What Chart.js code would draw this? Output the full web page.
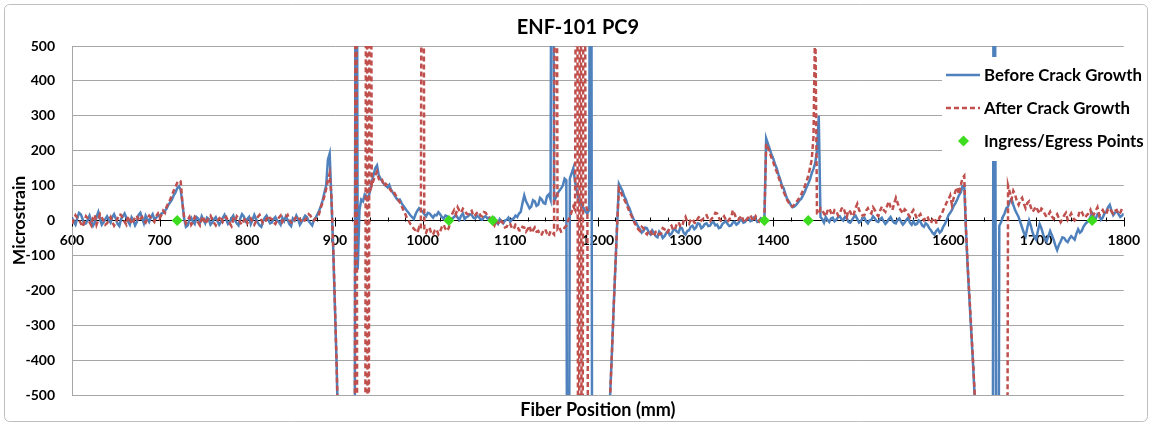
<!DOCTYPE html>
<html>
<head>
<meta charset="utf-8">
<script src="https://cdn.jsdelivr.net/npm/chart.js@4.4.1/dist/chart.umd.min.js"></script>
<style>
  html, body { margin: 0; padding: 0; background: #ffffff; }
  #wrap { width: 1152px; height: 425px; }
</style>
</head>
<body>
<div id="wrap"><canvas id="strainChart" width="1152" height="425"></canvas></div>
<script>
// Fibre strain profile, sampled every 2 mm from 600 mm to 1800 mm.
const FIBER_START_MM = 600;
const SAMPLE_STEP_MM = 2;

// Microstrain before crack growth (one row = 40 mm of fibre).
const beforeGrowth = [
  8, -4, -12, 6, 22, 18, 5, -10, -8, 2, 14, -2, -15, -6, 10, 24, 3, -12, -5, 4,                 // 600
  12, 2, -6, 10, 18, 6, -10, -16, 4, 12, 20, 8, -3, -12, 9, 0, -14, -4, 16, 22,                 // 640
  6, -8, 14, 4, -4, 10, 18, 2, 8, 14, 12, 20, 22, 28, 34, 45, 52, 60, 72, 80,                   // 680
  92, 98, 88, 50, 4, -18, -14, 2, 8, -4, -10, 10, 6, -6, 12, 2, -8, 8, 4, -12,                  // 720
  -6, 4, 10, -2, -12, -4, 8, 16, 2, -10, -4, 6, 14, 0, -8, -14, 6, 18, 12, -2,                  // 760
  4, 10, -10, 2, 16, 4, -6, -14, -18, -2, 8, 14, 2, -8, -6, 4, 10, 0, -4, -12,                  // 800
  8, -2, 12, 2, -10, -16, 6, 0, 14, 4, -12, -4, 4, 14, 10, -2, -8, -14, 2, 8,                   // 840
  18, 28, 42, 58, 80, 100, 175, 192, 60, -80, -250, -420, -650, -2000, -2000, -2000, -2000, -2000, -2000, -2000, // 880
  -2000, -2000, 2000, -140, 30, 60, 55, 75, 70, 62, 85, 110, 130, 150, 158, 130, 120, 112, 105, 100, // 920
  95, 102, 88, 80, 72, 64, 58, 60, 50, 42, 35, 28, 22, 15, 10, 4, 18, 28, 35, 30,               // 960
  25, 18, 12, 22, 20, 14, 8, 16, 15, 24, 18, 10, 5, 14, 12, 4, 0, 6, 10, 16,                    // 1000
  8, 2, 14, 20, 4, 10, 12, 18, 16, 8, 6, 14, 10, 4, 2, 10, 12, 6, 8, -2,                        // 1040
  0, 6, -5, -10, 4, -2, -8, 0, 2, 8, -4, 4, 6, 14, 10, 20, 25, 50, 72, 55,                      // 1080
  45, 35, 40, 58, 55, 42, 45, 65, 60, 50, 48, 70, 75, 60, 2000, 55, 65, 78, 85, 92,             // 1120
  100, 120, 115, -2000, 120, 135, 150, 110, 85, 60, 55, 40, 35, 25, 20, 30, 2000, -2000, -2000, -2000, // 1160
  -2000, -2000, -2000, -2000, -2000, -2000, -640, -500, -380, -250, -130, -10, 105, 95, 85, 70, 60, 45, 35, 20, // 1200
  8, -2, -8, -18, -25, -35, -30, -20, -22, -34, -40, -28, -35, -45, -48, -32, -38, -50, -45, -36, // 1240
  -30, -42, -38, -28, -25, -32, -35, -20, -22, -36, -40, -30, -28, -18, -15, -25, -20, -8, -10, -22, // 1280
  -18, -10, -8, -16, -15, -6, -5, -14, -12, -22, -20, -10, -6, -2, -10, -16, -14, -6, -4, -12,  // 1320
  -8, 0, 2, -6, -4, 4, 6, -2, 0, 8, 4, -4, -2, 6, 2, 2, 235, 220, 205, 190,                     // 1360
  178, 162, 150, 132, 118, 100, 92, 75, 62, 55, 45, 38, 40, 44, 50, 58, 62, 72, 82, 95,         // 1400
  105, 118, 135, 148, 165, 200, 300, 10, 4, -6, 10, 2, -4, 6, 8, -2, 2, 10, 12, 4,              // 1440
  0, 10, 6, -4, -6, 2, 10, 14, 4, -6, -2, 6, 8, -2, -8, 0, 2, 12, 6, -2,                        // 1480
  -4, 4, 8, -2, -10, -4, 4, 10, 0, -6, -8, 2, 6, -4, -12, -6, 2, 8, -6, -12,                    // 1520
  -2, -12, -10, 0, -4, -14, -18, -8, -12, -22, -28, -36, -40, -30, -25, -35, -30, -18, -10, 2,  // 1560
  15, 22, 30, 42, 50, 60, 72, 80, 98, 100, -30, -140, -230, -320, -410, -510, -2000, -2000, -2000, -2000, // 1600
  -2000, -2000, -2000, -2000, -2000, -2000, 2000, -290, -2000, -15, -5, 10, 20, 35, 40, 55, 62, 45, 30, 20, // 1640
  10, -5, -20, -35, -45, -20, 0, -15, -35, -48, -55, -30, -10, -22, -40, -52, -60, -45, -30, -42, // 1680
  -55, -72, -85, -70, -60, -48, -50, -58, -62, -52, -45, -50, -55, -38, -25, -35, -30, -18, -10, -5, // 1720
  0, 10, 20, 8, 5, 18, 15, 2, 8, 20, 25, 38, 45, 28, 15, 22, 28, 18, 10, 14,                    // 1760
  20                                                                                            // 1800
];

// Microstrain after crack growth.
const afterGrowth = [
  -10, 4, 15, 8, 2, -8, -18, -4, 12, 6, -5, -14, 8, 16, -12, 2, 18, 8, 0, -12,                  // 600
  -8, 2, 10, -4, -15, -6, 6, 18, 16, 4, -4, -12, 12, 4, -10, -2, 8, 14, -2, 4,                  // 640
  10, 0, -6, 6, 14, 8, 2, -4, 12, 20, 6, 16, 28, 22, 40, 50, 60, 72, 85, 96,                    // 680
  108, 115, 112, 50, 8, -8, 2, 10, -12, -4, 10, 2, -6, -14, 4, 12, -10, -2, 8, 14,              // 720
  2, -6, -14, -2, 6, 12, -4, 4, 10, 0, -8, -16, 4, -2, 12, 6, -6, -12, 0, 8,                    // 760
  -8, 0, 6, -4, -12, -2, 10, 16, 2, -8, -6, 4, 14, 6, 4, -6, -10, 0, 8, 14,                     // 800
  -4, 4, 10, 16, 2, -6, -8, 2, 12, 6, 4, -2, -6, 2, 8, 18, 14, 4, 0, 6,                         // 840
  10, 20, 38, 52, 70, 90, 115, 135, 70, -70, -240, -420, -650, -2000, -2000, -2000, -2000, -2000, -2000, -2000, // 880
  -2000, -2000, 2000, -2000, -2000, -2000, -2000, -2000, 2000, -2000, 2000, 100, 115, 130, 140, 120, 110, 115, 98, 105, // 920
  100, 92, 85, 88, 78, 70, 60, 52, 42, 30, 20, 8, 0, -10, -15, -24, -28, -35, -20, -25,         // 960
  2000, -30, -35, -22, -20, -38, -40, -28, -25, -40, -32, -18, -12, -24, -30, -20, 5, 20, 30, 18, // 1000
  38, 28, 22, 34, 30, 20, 18, 26, 28, 12, 15, 22, 25, 14, 12, 24, 22, 14, 10, 0,                // 1040
  -5, -14, 2, -6, -12, -2, -8, -20, -18, -8, -10, -22, -25, -12, -15, -28, -30, -18, -20, -32,  // 1080
  -25, -15, -35, -28, -20, -32, -30, -42, -40, -28, -25, -38, -45, -30, -35, -40, 2000, -25, -20, -32, // 1120
  -30, -20, -15, 0, 10, 25, 40, 30, 2000, -2000, 2000, -2000, 2000, 45, 30, -2000, -2000, -2000, -2000, -2000, // 1160
  -2000, -2000, -2000, -2000, -2000, -2000, -640, -500, -380, -250, -130, -10, 92, 82, 70, 60, 50, 38, 25, 15, // 1200
  5, -8, -15, -25, -30, -18, -22, -35, -40, -30, -28, -42, -45, -32, -30, -40, -38, -22, -25, -36, // 1240
  -32, -20, -15, -28, -25, -10, -5, -16, -18, 0, 10, -4, -10, 2, 5, -6, -8, 6, 12, 0,           // 1280
  4, 12, 15, 4, -2, 6, 10, 22, 20, 8, 0, 6, 12, 2, -4, 4, 8, 30, 18, 6,                         // 1320
  2, 8, 14, 0, -6, 4, 10, 16, 4, -2, 12, 6, -2, 8, 6, 4, 220, 208, 195, 180,                    // 1360
  168, 152, 140, 125, 110, 95, 82, 70, 58, 50, 42, 40, 45, 52, 58, 66, 75, 86, 98, 112,         // 1400
  128, 150, 175, 240, 600, 20, 18, 35, 30, 20, 12, 28, 35, 22, 15, 30, 28, 14, 20, 34,          // 1440
  38, 22, 10, 30, 25, 12, 18, 36, 48, 30, 22, 14, 15, 28, 35, 24, 20, 38, 30, 18,               // 1480
  12, 28, 40, 30, 25, 42, 55, 38, 30, 48, 65, 50, 35, 28, 20, 32, 28, 18, 10, 22,               // 1520
  30, 18, 5, 12, 18, 6, 0, 8, 12, -2, -8, 4, 8, -6, -5, 10, 15, 30, 40, 52,                     // 1560
  60, 72, 45, 65, 85, 95, 75, 100, 122, 128, -25, -130, -220, -310, -400, -500, -2000, -2000, -2000, -2000, // 1600
  -2000, -2000, -2000, -2000, -2000, -2000, -2000, -2000, -2000, -2000, -2000, -2000, -2000, -2000, 100, 80, 60, 85, 75, 55, // 1640
  45, 58, 65, 48, 35, 50, 55, 38, 25, 32, 40, 28, 20, 34, 30, 18, 10, 16, 25, 12,               // 1680
  5, 12, 18, 6, -5, 4, 15, 22, 2, 10, 20, 8, 0, 6, 12, 28, 25, 14, 8, 16,                       // 1720
  20, 30, 10, 18, 28, 38, 15, 24, 30, 20, 18, 32, 35, 26, 20, 28, 30, 18, 22, 34,               // 1760
  28                                                                                            // 1800
];

// Ingress / egress positions of the fibre (mm), plotted on the zero line.
const ingressEgressMm = [720, 1030, 1080, 1390, 1440, 1764];

// Axis tick values.
const xTicks = [600, 700, 800, 900, 1000, 1100, 1200, 1300, 1400, 1500, 1600, 1700, 1800];
const yTicks = [-500, -400, -300, -200, -100, 0, 100, 200, 300, 400, 500];

const seriesNames = ['Before Crack Growth', 'After Crack Growth', 'Ingress/Egress Points'];
const BLUE = '#4F81BD';
const RED = '#C0504D';
const GREEN = '#3CDC1E';
const FONT = 'Lato, "Open Sans", sans-serif';

const toPoints = values => values.map((v, i) => ({ x: FIBER_START_MM + i * SAMPLE_STEP_MM, y: v }));

// White page with a rounded frame.
const framePlugin = {
  id: 'frame',
  beforeDraw(chart) {
    const ctx = chart.ctx;
    ctx.save();
    ctx.fillStyle = '#ffffff';
    ctx.fillRect(0, 0, chart.width, chart.height);
    ctx.strokeStyle = '#BFBFBF';
    ctx.lineWidth = 1;
    ctx.beginPath();
    ctx.roundRect(4.5, 4.5, chart.width - 9, chart.height - 8, 5);
    ctx.stroke();
    ctx.restore();
  }
};

// Major ticks cross the zero axis, minor ticks (every 20 mm) sit above it.
const axisTicksPlugin = {
  id: 'axisTicks',
  beforeDatasetsDraw(chart) {
    const xs = chart.scales.x, ys = chart.scales.y, ctx = chart.ctx;
    const y0 = Math.round(ys.getPixelForValue(0)) + 0.5;
    ctx.save();
    ctx.strokeStyle = '#000000';
    ctx.lineWidth = 1;
    for (let v = xs.min; v <= xs.max; v += 20) {
      const px = Math.round(xs.getPixelForValue(v)) + 0.5;
      const major = v % 100 === 0;
      ctx.beginPath();
      ctx.moveTo(px, y0 - 4);
      ctx.lineTo(px, major ? y0 + 5 : y0);
      ctx.stroke();
    }
    ctx.restore();
  }
};

// Legend box laid over the upper right of the plot.
const legendBoxPlugin = {
  id: 'legendBox',
  afterDatasetsDraw(chart) {
    const ctx = chart.ctx;
    const ds = chart.data.datasets;
    const boxX = 942, boxY = 57, boxW = 204, boxH = 104;
    ctx.save();
    ctx.fillStyle = '#ffffff';
    ctx.fillRect(boxX, boxY, boxW, boxH);
    const rows = [75, 108, 141];
    const sx0 = 946, sx1 = 980, tx = 984;
    ctx.font = 'bold 16.8px ' + FONT;
    ctx.textBaseline = 'middle';
    ctx.textAlign = 'left';
    ds.forEach((d, i) => {
      const y = rows[i];
      if (d.showLine !== false) {
        ctx.strokeStyle = d.borderColor;
        ctx.lineWidth = d.borderWidth;
        ctx.setLineDash(d.borderDash || []);
        ctx.beginPath();
        ctx.moveTo(sx0, y);
        ctx.lineTo(sx1, y);
        ctx.stroke();
        ctx.setLineDash([]);
      } else {
        const cx = (sx0 + sx1) / 2 + 0.5, r = d.pointRadius;
        ctx.fillStyle = d.pointBackgroundColor;
        ctx.beginPath();
        ctx.moveTo(cx - r, y); ctx.lineTo(cx, y - r); ctx.lineTo(cx + r, y); ctx.lineTo(cx, y + r);
        ctx.closePath();
        ctx.fill();
      }
      ctx.fillStyle = '#000000';
      ctx.fillText(d.label, tx, y + 1);
    });
    ctx.restore();
  }
};

const tickFont = { family: FONT, size: 14, weight: 'bold' };
const plainNumber = v => String(v);

new Chart(document.getElementById('strainChart'), {
  type: 'line',
  data: {
    datasets: [
      {
        label: seriesNames[0],
        data: toPoints(beforeGrowth),
        borderColor: BLUE, borderWidth: 2.5,
        pointRadius: 0, tension: 0, order: 3,
        xAxisID: 'x', yAxisID: 'y'
      },
      {
        label: seriesNames[1],
        data: toPoints(afterGrowth),
        borderColor: RED, borderWidth: 2.5, borderDash: [5, 3],
        pointRadius: 0, tension: 0, order: 2,
        xAxisID: 'x', yAxisID: 'y'
      },
      {
        label: seriesNames[2],
        data: ingressEgressMm.map(x => ({ x, y: 0 })),
        showLine: false,
        pointStyle: 'rectRot', pointRadius: 5.5, pointBorderWidth: 0,
        pointBackgroundColor: GREEN, pointBorderColor: GREEN,
        backgroundColor: GREEN, borderColor: GREEN,
        order: 1,
        xAxisID: 'x', yAxisID: 'y'
      }
    ]
  },
  options: {
    responsive: false,
    animation: false,
    events: [],
    layout: { padding: { left: 4, right: 0, top: 8, bottom: 4 } },
    plugins: {
      legend: { display: false },
      tooltip: { enabled: false },
      title: {
        display: true,
        text: 'ENF-101 PC9',
        color: '#000000',
        font: { family: FONT, size: 20, weight: 'bold' },
        padding: { top: 8, bottom: 6 }
      }
    },
    scales: {
      x: {
        type: 'linear',
        position: { y: 0 },
        min: xTicks[0], max: xTicks[xTicks.length - 1],
        afterBuildTicks: s => { s.ticks = xTicks.map(v => ({ value: v })); },
        grid: { display: false, drawTicks: false },
        border: { display: true, color: '#000000', width: 1 },
        ticks: { color: '#000000', font: tickFont, padding: 12, maxRotation: 0, autoSkip: false, callback: plainNumber }
      },
      xTitle: {
        type: 'linear', axis: 'x', position: 'bottom',
        min: xTicks[0], max: xTicks[xTicks.length - 1],
        grid: { display: false, drawTicks: false },
        border: { display: false },
        ticks: { display: false },
        title: {
          display: true, text: 'Fiber Position (mm)', color: '#000000',
          font: { family: FONT, size: 18, weight: 'bold' }, padding: { top: 4.2, bottom: 0.2 }
        }
      },
      y: {
        type: 'linear', position: 'left',
        min: yTicks[0], max: yTicks[yTicks.length - 1],
        afterBuildTicks: s => { s.ticks = yTicks.map(v => ({ value: v })); },
        grid: { color: '#A6A6A6', lineWidth: 1, drawTicks: false },
        border: { color: '#A6A6A6', width: 1 },
        ticks: { color: '#000000', font: tickFont, padding: 17, callback: plainNumber },
        title: {
          display: true, text: 'Microstrain', color: '#000000',
          font: { family: FONT, size: 17.5, weight: 'bold' }, padding: { top: 4.5, bottom: 0 }
        },
        afterFit: s => { s.width = 68; }
      },
      yRight: {
        type: 'linear', position: 'right',
        min: yTicks[0], max: yTicks[yTicks.length - 1],
        grid: { display: false, drawTicks: false },
        border: { display: false },
        ticks: { display: false },
        afterFit: s => { s.width = 25; }
      }
    }
  },
  plugins: [framePlugin, axisTicksPlugin, legendBoxPlugin]
});
</script>
</body>
</html>
